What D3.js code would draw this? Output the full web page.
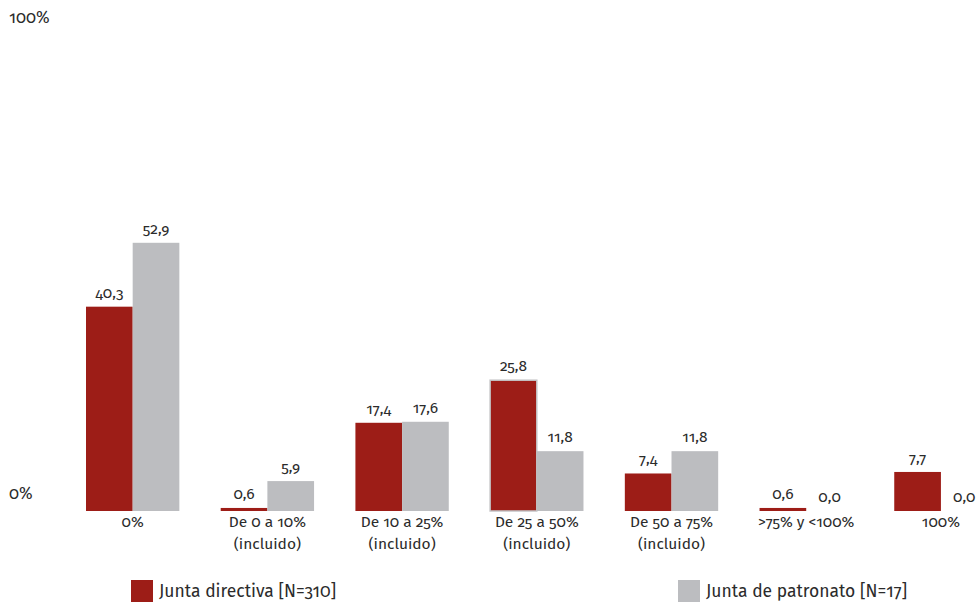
<!DOCTYPE html>
<html><head><meta charset="utf-8">
<script src="https://cdn.jsdelivr.net/npm/d3@7"></script>
<style>
body{margin:0;background:#fff;}
text{font-family:"Fira Sans","Open Sans","Noto Sans",sans-serif;fill:#2b2b2b;font-feature-settings:"onum";}
</style></head><body>
<svg id="c" width="978" height="603"></svg>
<script>
const categories = [["0%"],["De 0 a 10%","(incluido)"],["De 10 a 25%","(incluido)"],["De 25 a 50%","(incluido)"],["De 50 a 75%","(incluido)"],[">75% y <100%"],["100%"]];
const seriesNames = ["Junta directiva [N=310]","Junta de patronato [N=17]"];
const directiva = [40.3, 0.6, 17.4, 25.8, 7.4, 0.6, 7.7];
const patronato = [52.9, 5.9, 17.6, 11.8, 11.8, 0.0, 0.0];
const yTicks = [0, 100];
const colors = ["#9d1d17", "#bcbdc0"];

const svg = d3.select("#c");
const keys = categories.map((c,i)=>"c"+i);
const x0 = d3.scaleBand().domain(keys).range([86, 987.6]).paddingInner(0.307).paddingOuter(0);
const x1 = d3.scaleBand().domain([0,1]).range([0, x0.bandwidth()]);
const y = d3.scaleLinear().domain([0,100]).range([511, 4]);
const fmt = v => v.toFixed(1).replace(".", ",");

// y tick labels
svg.selectAll("text.yt").data(yTicks).enter().append("text")
  .attr("x", 9).attr("y", d => d===0 ? y(d)-12 : y(d)+19)
  .attr("font-size", 16.5).text(d => d + "%");

const series = [directiva, patronato];
series.forEach((vals, s) => {
  const g = svg.append("g");
  g.selectAll("rect").data(vals).enter().append("rect")
    .attr("x", (d,i) => x0(keys[i]) + x1(s))
    .attr("width", x1.bandwidth())
    .attr("y", d => y(d))
    .attr("height", d => y(0) - y(d))
    .attr("fill", colors[s])
    .attr("stroke", (d,i) => (s===0 && i===3) ? "#c4c4c6" : "none")
    .attr("stroke-width", 1.5);
  g.selectAll("text").data(vals).enter().append("text")
    .attr("x", (d,i) => x0(keys[i]) + x1(s) + x1.bandwidth()/2)
    .attr("y", d => y(d) - 9)
    .attr("text-anchor", "middle").attr("font-size", 15.5)
    .text(d => fmt(d));
});

// category labels
categories.forEach((lines, i) => {
  const cx = x0(keys[i]) + x0.bandwidth()/2;
  const t = svg.append("text").attr("text-anchor","middle").attr("font-size",15.5);
  lines.forEach((l, j) => {
    t.append("tspan").attr("x", cx).attr("y", 527 + j*22).text(l);
  });
});

// legend
const legX = [131, 678];
seriesNames.forEach((n, s) => {
  svg.append("rect").attr("x", legX[s]).attr("y", 580).attr("width", 22).attr("height", 22).attr("fill", colors[s]);
  svg.append("text").attr("x", legX[s] + 28).attr("y", 597).attr("font-size", 17.5).text(n);
});
</script></body></html>
